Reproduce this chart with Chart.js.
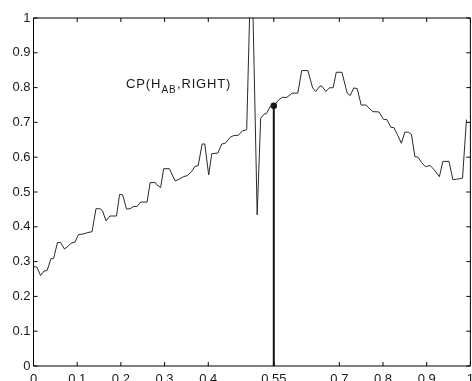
<!DOCTYPE html>
<html>
<head>
<meta charset="utf-8">
<script src="https://cdn.jsdelivr.net/npm/chart.js@4.4.1/dist/chart.umd.min.js"></script>
<style>
  html, body { margin: 0; padding: 0; background: #fff; overflow: hidden; }
  #wrap { width: 480px; height: 395px; }
</style>
</head>
<body>
<div id="wrap"><canvas id="c" width="480" height="395"></canvas></div>
<script>
// ---- data ----
const xValues = [0.000,0.008,0.016,0.024,0.031,0.040,0.046,0.055,0.062,0.071,0.079,0.086,0.095,0.103,0.113,0.123,0.134,0.143,0.152,0.158,0.166,0.175,0.190,0.197,0.204,0.213,0.221,0.230,0.237,0.245,0.260,0.267,0.279,0.282,0.291,0.298,0.311,0.324,0.331,0.343,0.352,0.362,0.369,0.377,0.386,0.392,0.401,0.408,0.422,0.431,0.439,0.450,0.458,0.469,0.478,0.488,0.499,0.512,0.520,0.528,0.533,0.543,0.551,0.560,0.569,0.580,0.592,0.605,0.614,0.628,0.639,0.646,0.656,0.661,0.669,0.677,0.686,0.693,0.706,0.718,0.725,0.733,0.741,0.750,0.761,0.776,0.791,0.801,0.809,0.818,0.825,0.834,0.842,0.850,0.858,0.865,0.873,0.880,0.888,0.897,0.908,0.917,0.929,0.937,0.951,0.960,0.969,0.975,0.982,0.991];
const yValues = [0.286,0.284,0.260,0.273,0.274,0.308,0.309,0.355,0.355,0.336,0.344,0.353,0.356,0.378,0.379,0.383,0.386,0.452,0.452,0.446,0.417,0.431,0.431,0.493,0.492,0.451,0.452,0.459,0.458,0.471,0.471,0.527,0.527,0.521,0.513,0.567,0.567,0.532,0.535,0.544,0.547,0.559,0.573,0.576,0.638,0.638,0.549,0.610,0.612,0.638,0.640,0.657,0.662,0.663,0.676,0.679,1.220,0.434,0.712,0.724,0.725,0.748,0.748,0.763,0.772,0.772,0.784,0.784,0.849,0.849,0.799,0.789,0.805,0.803,0.789,0.799,0.800,0.844,0.844,0.784,0.777,0.799,0.797,0.750,0.750,0.731,0.730,0.709,0.708,0.686,0.685,0.662,0.640,0.672,0.672,0.666,0.602,0.600,0.585,0.573,0.576,0.564,0.544,0.588,0.588,0.535,0.537,0.538,0.540,0.708];
const markerX = 0.55;
const markerY = 0.748;
const xTickValues = [0, 0.1, 0.2, 0.3, 0.4, 0.55, 0.7, 0.8, 0.9, 1];
const yTickValues = [0, 0.1, 0.2, 0.3, 0.4, 0.5, 0.6, 0.7, 0.8, 0.9, 1];
const annotMain = 'CP(H';
const annotSub = 'AB';
const annotRest = ',RIGHT)';
const annotX = 0.212;
const annotY = 0.80;

const FONT = '"Liberation Sans", Arial, Helvetica, sans-serif';
const lineData = xValues.map((x, i) => ({ x: x, y: yValues[i] }));
const stemData = [{ x: markerX, y: 0 }, { x: markerX, y: markerY }];

const framePlugin = {
  id: 'frame',
  afterDraw(chart) {
    const ctx = chart.ctx;
    const a = chart.chartArea;
    const xs = chart.scales.x, ys = chart.scales.y;
    const tl = 4;
    ctx.save();
    ctx.strokeStyle = '#000';
    ctx.lineWidth = 1;
    ctx.beginPath();
    ctx.rect(a.left, a.top, a.right - a.left, a.bottom - a.top);
    ctx.stroke();
    ctx.beginPath();
    xTickValues.forEach(v => {
      const p = xs.getPixelForValue(v);
      ctx.moveTo(p, a.bottom); ctx.lineTo(p, a.bottom - tl);
      ctx.moveTo(p, a.top); ctx.lineTo(p, a.top + tl);
    });
    yTickValues.forEach(v => {
      const p = ys.getPixelForValue(v);
      ctx.moveTo(a.left, p); ctx.lineTo(a.left + tl, p);
      ctx.moveTo(a.right, p); ctx.lineTo(a.right - tl, p);
    });
    ctx.stroke();

    // annotation text
    ctx.fillStyle = '#1a1a1a';
    ctx.textBaseline = 'alphabetic';
    ctx.textAlign = 'left';
    ctx.letterSpacing = '0.8px';
    let tx = xs.getPixelForValue(annotX);
    const ty = ys.getPixelForValue(annotY);
    ctx.font = '13px ' + FONT;
    ctx.fillText(annotMain, tx, ty);
    tx += ctx.measureText(annotMain).width;
    ctx.font = '10px ' + FONT;
    ctx.fillText(annotSub, tx + 0.5, ty + 5);
    tx += ctx.measureText(annotSub).width + 1;
    ctx.font = '13px ' + FONT;
    ctx.fillText(annotRest, tx, ty);
    ctx.restore();
  }
};

new Chart(document.getElementById('c'), {
  type: 'line',
  data: {
    datasets: [
      {
        data: lineData,
        borderColor: '#2a2a2a',
        borderWidth: 1,
        pointRadius: 0,
        tension: 0,
        fill: false
      },
      {
        data: stemData,
        borderColor: '#111',
        borderWidth: 2,
        pointRadius: [0, 3.2],
        pointBackgroundColor: '#111',
        pointBorderColor: '#111',
        pointBorderWidth: 0,
        tension: 0,
        fill: false
      }
    ]
  },
  options: {
    responsive: false,
    devicePixelRatio: 1,
    animation: false,
    events: [],
    layout: { padding: { left: 0, top: 18, right: 4.5, bottom: 0 } },
    plugins: { legend: { display: false }, tooltip: { enabled: false } },
    scales: {
      x: {
        type: 'linear',
        min: 0, max: 1,
        afterBuildTicks: s => { s.ticks = xTickValues.map(v => ({ value: v })); },
        afterFit: s => { s.height = 29; },
        grid: { display: false, drawTicks: false },
        border: { display: false },
        ticks: {
          autoSkip: false, maxRotation: 0, padding: 6,
          color: '#1a1a1a',
          font: { family: FONT, size: 13 },
          callback: v => String(v)
        }
      },
      y: {
        type: 'linear',
        min: 0, max: 1,
        afterBuildTicks: s => { s.ticks = yTickValues.map(v => ({ value: v })); },
        afterFit: s => { s.width = 33.5; },
        grid: { display: false, drawTicks: false },
        border: { display: false },
        ticks: {
          autoSkip: false, padding: 3,
          color: '#1a1a1a',
          font: { family: FONT, size: 13 },
          callback: v => String(v)
        }
      }
    }
  },
  plugins: [framePlugin]
});
</script>
</body>
</html>
